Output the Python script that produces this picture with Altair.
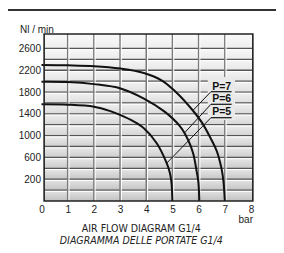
import altair as alt
import pandas as pd

# ---- data ----
x5 = [0, 1.0, 2.01, 2.6, 3.02, 3.5, 3.91, 4.4, 4.78, 4.9, 4.96, 5.0]
y5 = [1575, 1568, 1531, 1455, 1375, 1265, 1135, 860, 495, 320, 150, -200]
x6 = [0, 1.0, 2.01, 3.02, 3.91, 4.7, 5.29, 5.6, 5.79, 5.93, 5.99, 6.03]
y6 = [1990, 1984, 1945, 1865, 1680, 1440, 1170, 920, 676, 330, 150, -200]
x7 = [0, 1.0, 2.01, 3.02, 3.91, 4.6, 5.2, 5.78, 6.14, 6.45, 6.69, 6.88, 6.95, 7.0]
y7 = [2296, 2290, 2275, 2230, 2150, 2010, 1770, 1461, 1230, 960, 720, 380, 150, -200]

labels = ["P=7", "P=6", "P=5"]
label_x = [6.88, 6.88, 6.88]
label_y = [1898, 1667, 1428]
uline_x1 = [6.47, 6.47, 6.47]
uline_x2 = [7.26, 7.26, 7.26]
uline_y = [1806, 1575, 1329]
leader_end_x = [5.78, 5.45, 4.78]
leader_end_y = [1461, 1045, 495]

y_ticks = [200, 600, 1000, 1400, 1800, 2200, 2600]
x_ticks = [0, 1, 2, 3, 4, 5, 6, 7, 8]
h_grid = [0, 200, 400, 600, 800, 1000, 1200, 1400, 1600, 1800, 2000, 2200, 2400, 2600]
v_grid = [1, 2, 3, 4, 5, 6, 7]

YMIN, YMAX = -200, 2865
XL, XR = 0.1, 8.07

curves = pd.concat([
    pd.DataFrame({"x": x5, "y": y5, "s": "P=5"}),
    pd.DataFrame({"x": x6, "y": y6, "s": "P=6"}),
    pd.DataFrame({"x": x7, "y": y7, "s": "P=7"}),
])
lab = pd.DataFrame({"t": labels, "x": label_x, "y": label_y,
                    "ux1": uline_x1, "ux2": uline_x2, "uy": uline_y,
                    "ex": leader_end_x, "ey": leader_end_y})
hg = pd.DataFrame({"y": h_grid})
vg = pd.DataFrame({"x": v_grid})
bands = pd.DataFrame({"y": [YMIN] + h_grid, "y2": h_grid + [YMAX]})
frame = pd.DataFrame({"x": [XL], "x2": [XR], "y": [YMIN], "y2": [YMAX]})
box = pd.DataFrame({"x": [6.35], "x2": [7.39], "y": [1287], "y2": [2076]})

xs = alt.Scale(domain=[0, 8], nice=False)
ys = alt.Scale(domain=[YMIN, YMAX], nice=False)

FONT = "Liberation Sans"
COND = "DejaVu Sans Condensed, Liberation Sans Narrow, Arial Narrow, sans-serif"

xaxis = alt.Axis(values=x_ticks, grid=False, ticks=False, domain=False, format="d",
                 labelOverlap=False, labelFlush=False,
                 labelFont=FONT, labelFontSize=10, labelColor="#222",
                 labelPadding=3, title="bar", titleFont=FONT, titleFontSize=10,
                 titleFontWeight="normal", titleColor="#222", titleAlign="right",
                 titleX=211, titleY=18, titleBaseline="middle")
yaxis = alt.Axis(values=y_ticks, grid=False, ticks=False, domain=False, format="d",
                 labelOverlap=False, labelFlush=False,
                 labelFont=FONT, labelFontSize=10, labelColor="#222",
                 labelPadding=1, title="Nl / min", titleFont=FONT, titleFontSize=10,
                 titleFontWeight="normal", titleColor="#222", titleAngle=0,
                 titleAlign="left", titleX=-22, titleY=-5, titleBaseline="middle")


def X(f):
    return alt.X(f, scale=xs, axis=None)


def Y(f):
    return alt.Y(f, scale=ys, axis=None)


bg = alt.Chart(frame).mark_rect(
    color=alt.Gradient(gradient="linear", x1=0, x2=0, y1=0, y2=1,
                       stops=[alt.GradientStop(offset=0, color="#f2f2f2"),
                              alt.GradientStop(offset=1, color="#c0c0c0")])
).encode(x=alt.X("x:Q", scale=xs, axis=xaxis), x2="x2", y=alt.Y("y:Q", scale=ys, axis=yaxis), y2="y2")

band_overlay = alt.Chart(bands).mark_rect(
    color=alt.Gradient(gradient="linear", x1=0, x2=0, y1=0, y2=1,
                       stops=[alt.GradientStop(offset=0, color="rgba(255,255,255,0.55)"),
                              alt.GradientStop(offset=1, color="rgba(255,255,255,0)")])
).encode(x=alt.datum(XL, scale=xs, axis=None), x2=alt.datum(XR), y=Y("y2:Q"), y2="y")

hlines = alt.Chart(hg).mark_rule(color="#555", strokeWidth=1.3).encode(
    x=alt.datum(XL, scale=xs, axis=None), x2=alt.datum(XR), y=Y("y:Q"))
hlines_w = alt.Chart(hg).mark_rule(color="#ffffff", strokeWidth=1, yOffset=1.3).encode(
    x=alt.datum(XL, scale=xs, axis=None), x2=alt.datum(XR), y=Y("y:Q"))
vlines = alt.Chart(vg).mark_rule(color="#7a7a7a", strokeWidth=1.5).encode(
    x=X("x:Q"), y=alt.datum(YMIN, scale=ys, axis=None), y2=alt.datum(YMAX))
vlines_w = alt.Chart(vg).mark_rule(color="#ffffff", strokeWidth=1, xOffset=1.3).encode(
    x=X("x:Q"), y=alt.datum(YMIN, scale=ys, axis=None), y2=alt.datum(YMAX))

boxl = alt.Chart(box).mark_rect(color="#e9e9e9").encode(
    x=X("x:Q"), x2="x2", y=Y("y:Q"), y2="y2")

lines = alt.Chart(curves).mark_line(color="#111", strokeWidth=2, interpolate="catmull-rom").encode(
    x=X("x:Q"), y=Y("y:Q"), detail="s:N")

leaders = alt.Chart(lab).mark_rule(color="#111", strokeWidth=1).encode(
    x=X("ux1:Q"), x2="ex", y=Y("uy:Q"), y2="ey")
ulines = alt.Chart(lab).mark_rule(color="#111", strokeWidth=1.2).encode(
    x=X("ux1:Q"), x2="ux2", y=Y("uy:Q"))
texts = alt.Chart(lab).mark_text(font=FONT, fontSize=10.5, fontWeight="bold", color="#111",
                                 baseline="middle", align="center").encode(
    x=X("x:Q"), y=Y("y:Q"), text="t:N")

border = alt.Chart(frame).mark_rect(fill=None, stroke="#222", strokeWidth=1.6).encode(
    x=X("x:Q"), x2="x2", y=Y("y:Q"), y2="y2")

topline = alt.Chart(frame).mark_rule(color="#333", strokeWidth=2).encode(
    x=alt.value(-33.5), x2=alt.value(234.5), y=alt.value(-24))

chart = alt.layer(bg, band_overlay, hlines, hlines_w, vlines, vlines_w, boxl, lines,
                  leaders, ulines, texts, border, topline).properties(
    width=209.5, height=167,
    padding={"left": 33.5, "top": 26, "right": 25, "bottom": 44},
    autosize=alt.AutoSizeParams(type="none"),
    title=alt.Title("AIR FLOW DIAGRAM G1/4", subtitle="DIAGRAMMA DELLE PORTATE G1/4",
                    orient="bottom", anchor="middle", dx=-5, offset=0,
                    font=COND, fontSize=10.5, fontWeight="normal", color="#222",
                    subtitleFont=COND, subtitleFontSize=10.5, subtitleFontStyle="italic",
                    subtitleColor="#222", subtitlePadding=1.5)
).resolve_axis(x="independent", y="independent").configure_view(stroke=None)

chart.save("out.html", embed_options={"renderer": "svg", "actions": False})
